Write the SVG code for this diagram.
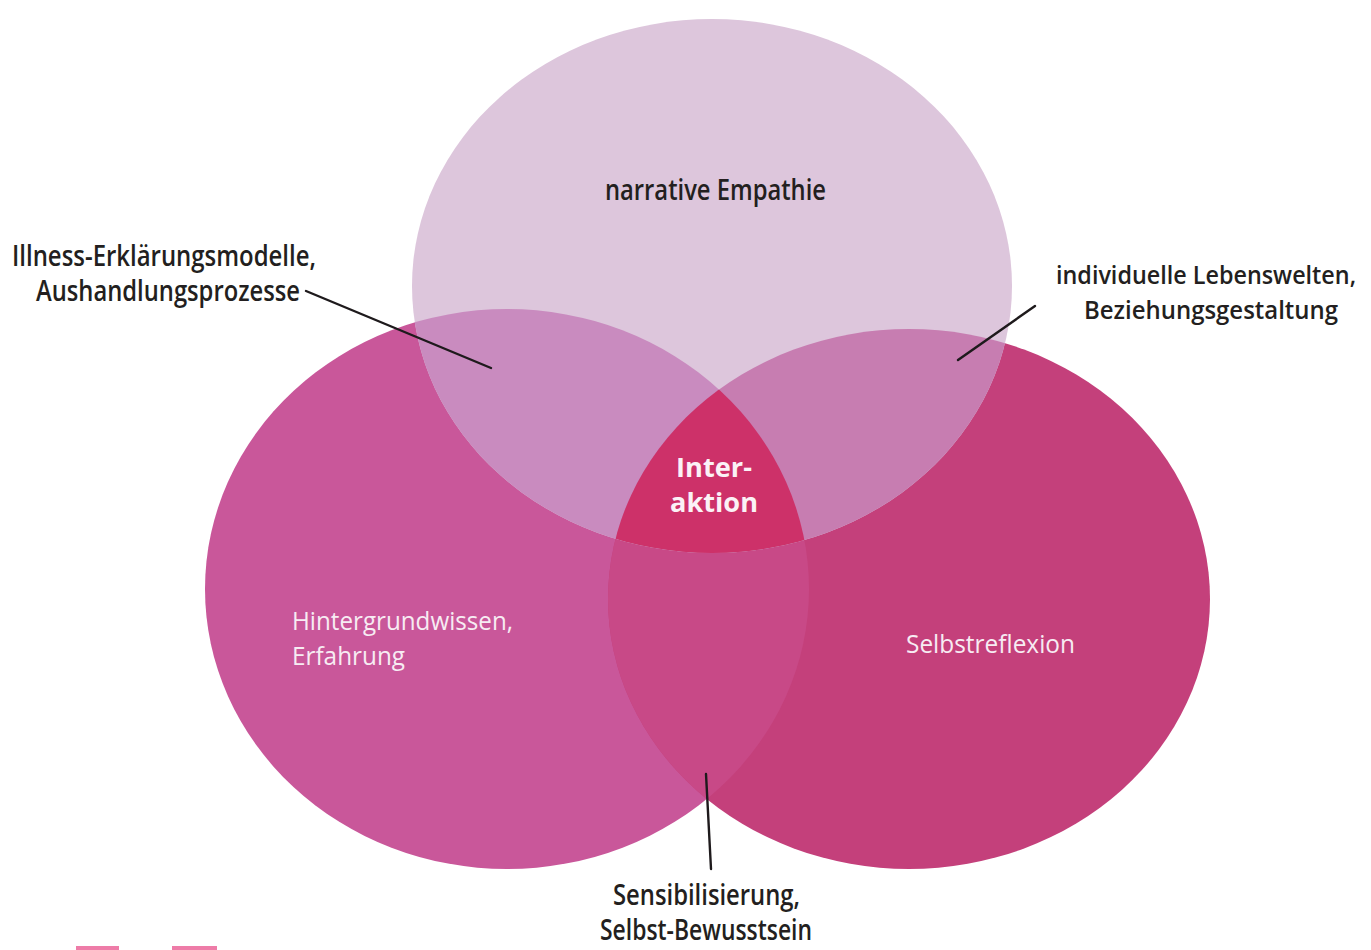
<svg xmlns="http://www.w3.org/2000/svg" width="1371" height="950" viewBox="0 0 1371 950">
  <style>
    .lbl { font-family: "Open Sans", "Noto Sans", "Liberation Sans", sans-serif; font-size: 28px; font-weight: 600; fill: #231f20; }
    .end { text-anchor: end; font-size: 25px; }
    .inn { font-family: "Open Sans", "Noto Sans", "Liberation Sans", sans-serif; font-size: 26px; font-weight: 400; fill: #f7ecf3; }
    .ctr { font-family: "Open Sans", "Noto Sans", "Liberation Sans", sans-serif; font-size: 27px; font-weight: 700; fill: #fbf2f6; text-anchor: middle; }
    .conn { stroke: #1e1a1c; stroke-width: 2.4; fill: none; stroke-linecap: round; }
  </style>
  <defs>
    <ellipse id="eT" cx="712" cy="286" rx="300" ry="267"/>
    <ellipse id="eL" cx="507" cy="589" rx="302" ry="280"/>
    <ellipse id="eR" cx="909" cy="599" rx="301" ry="270"/>
    <clipPath id="cT"><use href="#eT"/></clipPath>
    <clipPath id="cL"><use href="#eL"/></clipPath>
    <clipPath id="cR"><use href="#eR"/></clipPath>
  </defs>
  <rect x="0" y="0" width="1371" height="950" fill="#ffffff"/>

  <g id="circle-left">
    <use href="#eL" fill="#c9579a"/>
  </g>
  <g id="circle-right">
    <use href="#eR" fill="#c4407b"/>
    <use href="#eR" fill="#c84987" clip-path="url(#cL)"/>
  </g>
  <g id="circle-top">
    <use href="#eT" fill="#ddc6dc"/>
    <use href="#eL" fill="#c98bbf" clip-path="url(#cT)"/>
    <use href="#eR" fill="#c77db1" clip-path="url(#cT)"/>
  </g>
  <g id="center-interaktion">
    <g clip-path="url(#cT)">
      <use href="#eR" fill="#cd3169" clip-path="url(#cL)"/>
    </g>
    <text class="ctr" x="714" y="477" textLength="76" lengthAdjust="spacingAndGlyphs">Inter-</text>
    <text class="ctr" x="714" y="512" textLength="88" lengthAdjust="spacingAndGlyphs">aktion</text>
  </g>

  <g id="label-top">
    <text class="lbl" x="605" y="200" textLength="221" lengthAdjust="spacingAndGlyphs">narrative Empathie</text>
  </g>
  <g id="label-left">
    <text class="inn" x="292" y="630" textLength="221" lengthAdjust="spacingAndGlyphs">Hintergrundwissen,</text>
    <text class="inn" x="292" y="665" textLength="113" lengthAdjust="spacingAndGlyphs">Erfahrung</text>
  </g>
  <g id="label-right">
    <text class="inn" x="906" y="653" textLength="169" lengthAdjust="spacingAndGlyphs">Selbstreflexion</text>
  </g>
  <g id="label-illness">
    <text class="lbl" x="12" y="266" textLength="304" lengthAdjust="spacingAndGlyphs">Illness-Erklärungsmodelle,</text>
    <text class="lbl" x="36" y="301" textLength="264" lengthAdjust="spacingAndGlyphs">Aushandlungsprozesse</text>
  </g>
  <g id="label-lebenswelten">
    <text class="lbl end" x="1356" y="284" textLength="300" lengthAdjust="spacingAndGlyphs">individuelle Lebenswelten,</text>
    <text class="lbl end" x="1338" y="319" textLength="254" lengthAdjust="spacingAndGlyphs">Beziehungsgestaltung</text>
  </g>
  <g id="label-sensibilisierung">
    <text class="lbl" x="613" y="905" textLength="187" lengthAdjust="spacingAndGlyphs">Sensibilisierung,</text>
    <text class="lbl" x="600" y="940" textLength="212" lengthAdjust="spacingAndGlyphs">Selbst-Bewusstsein</text>
  </g>

  <g id="connectors">
    <line class="conn" x1="306" y1="291" x2="491" y2="368"/>
    <line class="conn" x1="1035" y1="306" x2="958" y2="360"/>
    <line class="conn" x1="706" y1="774" x2="711" y2="869"/>
  </g>

  <g id="marks">
    <rect x="76" y="946" width="43" height="4" fill="#ee7ca8"/>
    <rect x="172" y="946" width="45" height="4" fill="#ee7ca8"/>
  </g>
</svg>
